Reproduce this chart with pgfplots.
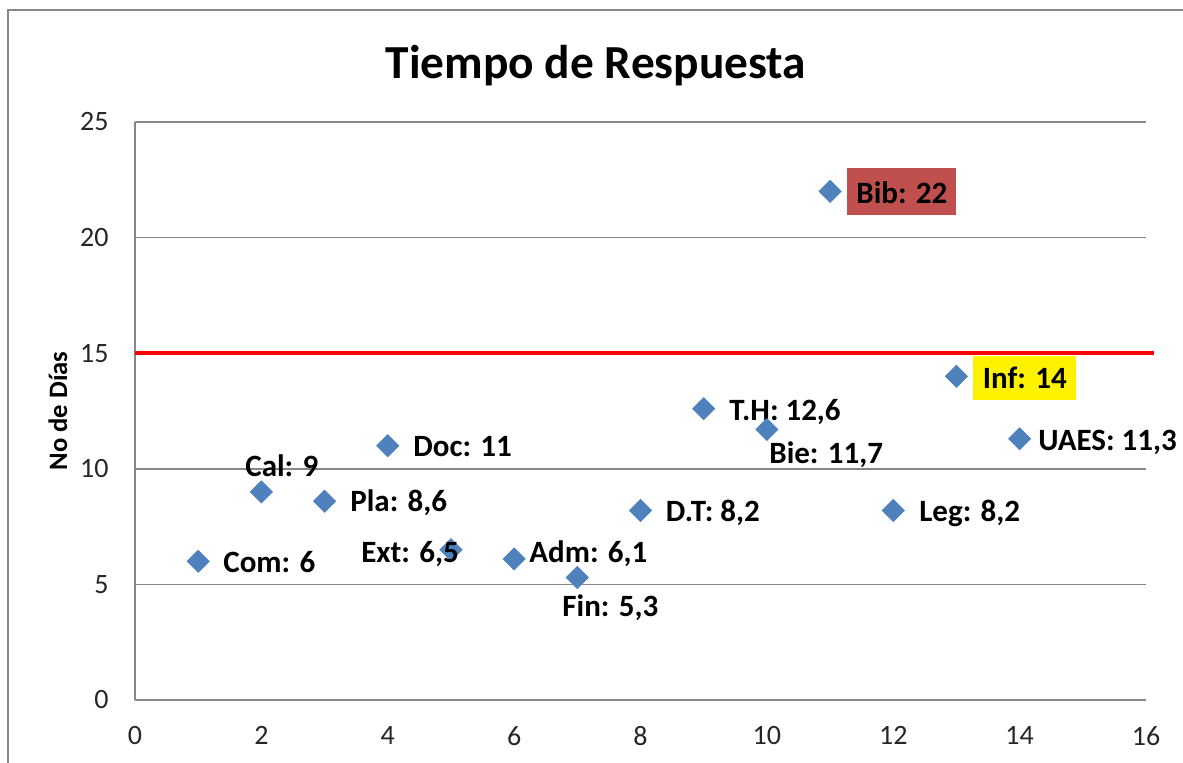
\documentclass[border=0pt]{standalone}
\usepackage{fontspec}
\setmainfont{Carlito}
\usepackage{pgfplots}
\usepackage{pgfplotstable}
\pgfplotsset{compat=1.18}
\definecolor{mblue}{HTML}{4F81BD}
\definecolor{bibred}{HTML}{C0504D}
\definecolor{gridgray}{HTML}{878787}
\pgfplotstableread[col sep=semicolon]{
x;y;lab;dx;dy
1;6;Com: 6;24.8;-11.7
2;9;Cal: 9;-16.4;15.9
3;8.6;Pla: 8,6;25.4;-10.8
4;11;Doc: 11;25.2;-11.3
5;6.5;Ext: 6,5;-90;-12.3
6;6.1;Adm: 6,1;14.9;-4
7;5.3;Fin: 5,3;-15.3;-39.5
8;8.2;D.T: 8,2;25;-11
9;12.6;T.H: 12,6;25.3;-12.3
10;11.7;Bie: 11,7;2.1;-33.5
12;8.2;Leg: 8,2;25.7;-10.6
14;11.3;UAES: 11,3;18.3;-11.3
}\datatable
\begin{document}
\begin{tikzpicture}
\begin{axis}[
  scale only axis, width=505.5pt, height=289pt,
  xmin=0, xmax=16, ymin=0, ymax=25,
  xtick={0,2,...,16}, ytick={0,5,...,25},
  axis lines*=left,
  axis line style={-, draw=gridgray, line width=0.75pt},
  ymajorgrids, grid style={draw=gridgray, line width=0.75pt},
  major tick length=0pt,
  tick label style={font=\fontsize{14}{16}\selectfont, text=black!85},
  /pgf/number format/assume math mode=true,
  xticklabel style={anchor=north, inner sep=0pt, yshift=-13pt},
  yticklabel style={anchor=east, inner sep=0pt, xshift=-13pt},
  ylabel={No de Días},
  ylabel style={at={(axis description cs:-0.0762,0.5)}, anchor=center, font=\bfseries\fontsize{13.3}{15}\selectfont},
  title={Tiempo de Respuesta},
  title style={at={(axis description cs:0.456,1)}, anchor=base, yshift=16pt, font=\bfseries\fontsize{23.7}{28}\selectfont},
  clip=false,
]
\addplot[draw=red, line width=2pt, mark=none] coordinates {(0,15) (16.13,15)};
\addplot[only marks, mark=square*, mark size=3.9pt, mark options={rotate=45, fill=mblue, draw=mblue},
  nodes near coords, point meta=explicit symbolic,
  visualization depends on={\thisrow{dx}\as\dx},
  visualization depends on={\thisrow{dy}\as\dy},
  every node near coord/.append style={anchor=base west, inner sep=0pt, xshift=\dx*0.5pt, yshift=\dy*0.5pt, font=\bfseries\fontsize{15.5}{18}\selectfont, text=black}
] table[x=x, y=y, meta=lab]{\datatable};
\addplot[only marks, mark=square*, mark size=3.9pt, mark options={rotate=45, fill=mblue, draw=mblue},
  nodes near coords, point meta=explicit symbolic,
  every node near coord/.append style={anchor=base west, fill=bibred, inner xsep=4.5pt, inner ysep=0pt, text height=18pt, text depth=5.5pt, xshift=8.45pt, yshift=-6.3pt, font=\bfseries\fontsize{15.5}{18}\selectfont, text=black}
] coordinates {(11,22) [Bib: 22]};
\addplot[only marks, mark=square*, mark size=3.9pt, mark options={rotate=45, fill=mblue, draw=mblue},
  nodes near coords, point meta=explicit symbolic,
  every node near coord/.append style={anchor=base west, fill=yellow, inner xsep=4.75pt, inner ysep=0pt, text height=16pt, text depth=6pt, xshift=8.25pt, yshift=-5.85pt, font=\bfseries\fontsize{15.5}{18}\selectfont, text=black}
] coordinates {(13,14) [Inf: 14]};
\end{axis}
\draw[gridgray, line width=1pt] (-63.5pt,-40pt) -- (-63.5pt,345pt) -- (540pt,345pt);
\pgfresetboundingbox
\useasboundingbox (-67.5pt,-31pt) rectangle (524pt,350pt);
\end{tikzpicture}
\end{document}
